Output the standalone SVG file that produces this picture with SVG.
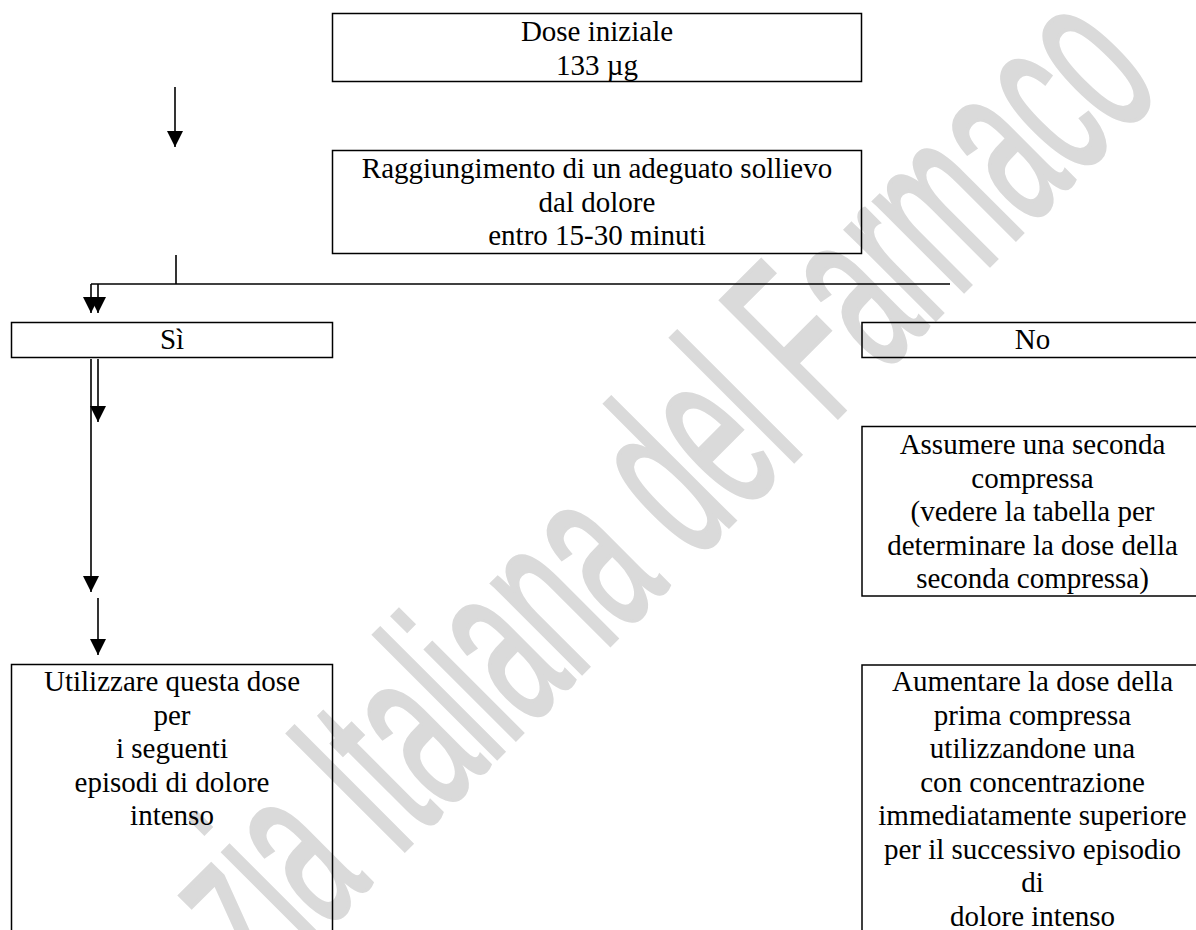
<svg xmlns="http://www.w3.org/2000/svg" width="1196" height="930" viewBox="0 0 1196 930">
<defs>
<style>
.box{fill:none;stroke:#000;stroke-width:1.5}
.t{font-family:"Liberation Serif","Times New Roman",serif;font-size:29px;fill:#000;text-anchor:middle}
.c{fill:none;stroke:#000;stroke-width:1.6}
.wm{font-family:"Liberation Sans",Arial,sans-serif;font-size:240px;fill:#dadada;stroke:#dadada;stroke-width:4}
</style>
<marker id="ah" viewBox="0 0 16 16" refX="16" refY="8" markerWidth="16" markerHeight="16" markerUnits="userSpaceOnUse" orient="auto">
<path d="M0,0 L16,8 L0,16 Z" fill="#000"/>
</marker>
</defs>
<rect width="1196" height="930" fill="#fff"/>
<text class="wm" text-anchor="end" transform="translate(1165,90) rotate(-45) scale(0.5,1)">zia Italiana del Farmaco</text>

<g id="connectors">
<line class="c" x1="175" y1="87" x2="175" y2="147" marker-end="url(#ah)"/>
<polyline class="c" points="176,255 176,284"/>
<polyline class="c" points="950,284 91,284"/>
<line class="c" x1="91" y1="284" x2="91" y2="313" marker-end="url(#ah)"/>
<line class="c" x1="98" y1="284" x2="98" y2="313" marker-end="url(#ah)"/>
<line class="c" x1="91" y1="359" x2="91" y2="592" marker-end="url(#ah)"/>
<line class="c" x1="98" y1="359" x2="98" y2="422" marker-end="url(#ah)"/>
<line class="c" x1="98" y1="598" x2="98" y2="655" marker-end="url(#ah)"/>
</g>

<g id="n-dose">
<rect class="box" x="332.5" y="13.5" width="529" height="68"/>
<text class="t" x="597" y="41">Dose iniziale</text>
<text class="t" x="597" y="74.5">133 µg</text>
</g>
<g id="n-sollievo">
<rect class="box" x="332.5" y="150.5" width="529" height="103"/>
<text class="t" x="597" y="178">Raggiungimento di un adeguato sollievo</text>
<text class="t" x="597" y="211.5">dal dolore</text>
<text class="t" x="597" y="245">entro 15-30 minuti</text>
</g>
<g id="n-si">
<rect class="box" x="11.5" y="322.5" width="321" height="35"/>
<text class="t" x="172" y="349">Sì</text>
</g>
<g id="n-no">
<rect class="box" x="862" y="322.5" width="342" height="35"/>
<text class="t" x="1032.5" y="349">No</text>
</g>
<g id="n-seconda">
<rect class="box" x="862" y="426.5" width="342" height="169.5"/>
<text class="t" x="1032.5" y="454">Assumere una seconda</text>
<text class="t" x="1032.5" y="487.5">compressa</text>
<text class="t" x="1032.5" y="521">(vedere la tabella per</text>
<text class="t" x="1032.5" y="554.5">determinare la dose della</text>
<text class="t" x="1032.5" y="588">seconda compressa)</text>
</g>
<g id="n-utilizzare">
<rect class="box" x="11.5" y="664.5" width="321" height="300"/>
<text class="t" x="172" y="691">Utilizzare questa dose</text>
<text class="t" x="172" y="724.5">per</text>
<text class="t" x="172" y="758">i seguenti</text>
<text class="t" x="172" y="791.5">episodi di dolore</text>
<text class="t" x="172" y="825">intenso</text>
</g>
<g id="n-aumentare">
<rect class="box" x="862" y="665" width="342" height="300"/>
<text class="t" x="1032.5" y="691">Aumentare la dose della</text>
<text class="t" x="1032.5" y="724.5">prima compressa</text>
<text class="t" x="1032.5" y="758">utilizzandone una</text>
<text class="t" x="1032.5" y="791.5">con concentrazione</text>
<text class="t" x="1032.5" y="825">immediatamente superiore</text>
<text class="t" x="1032.5" y="858.5">per il successivo episodio</text>
<text class="t" x="1032.5" y="892">di</text>
<text class="t" x="1032.5" y="925.5">dolore intenso</text>
</g>
</svg>
